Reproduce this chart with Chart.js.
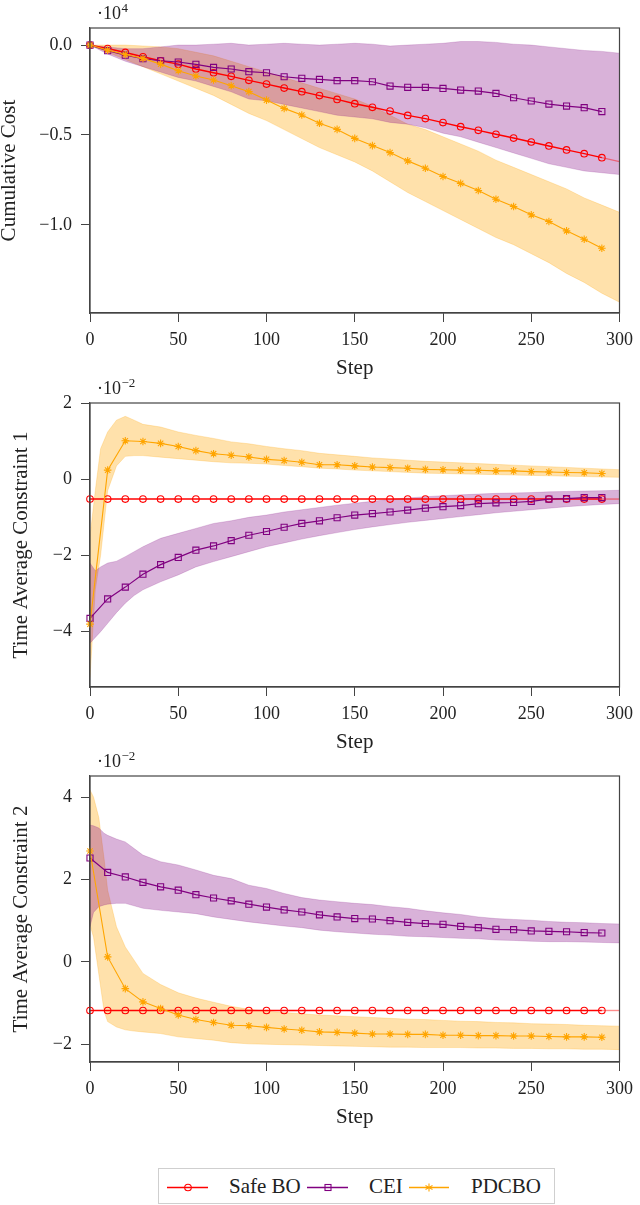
<!DOCTYPE html>
<html>
<head>
<meta charset="utf-8">
<script src="https://cdn.jsdelivr.net/npm/chart.js@4.4.1/dist/chart.umd.min.js"></script>
<style>
  html, body { margin: 0; padding: 0; background: #fff; }
  #page { position: relative; width: 640px; height: 1205px; background: #fff; overflow: hidden; }
  .cv { position: absolute; left: 0; }
  #legend { position: absolute; left: 158px; top: 1168px; width: 397px; height: 36px;
            border: 1px solid #cfcfcf; box-sizing: border-box; font-family: "Liberation Serif", serif;
            font-size: 21px; color: #222; }
  #legend .t { position: absolute; top: 4px; line-height: 26px; white-space: nowrap; }
  #legend svg { position: absolute; top: 0; left: 0; }
</style>
</head>
<body>
<div id="page">
  <canvas id="c1" class="cv" style="top:0px"></canvas>
  <canvas id="c2" class="cv" style="top:370px"></canvas>
  <canvas id="c3" class="cv" style="top:745px"></canvas>
  <div id="legend">
    <svg width="397" height="36" viewBox="0 0 397 36">
      <line x1="8" y1="18.5" x2="49" y2="18.5" stroke="#ff0000" stroke-width="1.3"/>
      <circle cx="29" cy="18.5" r="3.3" fill="none" stroke="#ff0000" stroke-width="1.1"/>
      <line x1="148" y1="18.5" x2="189" y2="18.5" stroke="#800080" stroke-width="1.3"/>
      <rect x="166" y="15.5" width="6" height="6" fill="none" stroke="#800080" stroke-width="1.1"/>
      <line x1="250" y1="18.5" x2="290" y2="18.5" stroke="#ffa500" stroke-width="1.3"/>
      <g stroke="#ffa500" stroke-width="1.1">
        <line x1="270" y1="14.5" x2="270" y2="22.5"/>
        <line x1="266.5" y1="16.5" x2="273.5" y2="20.5"/>
        <line x1="266.5" y1="20.5" x2="273.5" y2="16.5"/>
      </g>
    </svg>
    <span class="t" style="left:70px">Safe BO</span>
    <span class="t" style="left:210px">CEI</span>
    <span class="t" style="left:312px">PDCBO</span>
  </div>
</div>
<script>
// ---------------- DATA ----------------
const seriesNames = ['Safe BO', 'CEI', 'PDCBO'];
const markerSteps = [0,10,20,30,40,50,60,70,80,90,100,110,120,130,140,150,160,170,180,190,200,210,220,230,240,250,260,270,280,290];
const safeSteps = [0,10,20,30,40,50,60,70,80,90,100,110,120,130,140,150,160,170,180,190,200,210,220,230,240,250,260,270,280,290,300];
const xTicks = [0,50,100,150,200,250,300];
const xTickLabels = ['0','50','100','150','200','250','300'];

// Panel 1: Cumulative Cost (x 10^4)
const costSafe = [0,-0.019,-0.041,-0.065,-0.087,-0.106,-0.133,-0.154,-0.174,-0.196,-0.217,-0.239,-0.259,-0.281,-0.302,-0.326,-0.346,-0.367,-0.391,-0.409,-0.431,-0.454,-0.474,-0.496,-0.517,-0.539,-0.561,-0.583,-0.604,-0.626,-0.648];
const costCEI = [0,-0.031,-0.056,-0.076,-0.087,-0.094,-0.107,-0.124,-0.133,-0.148,-0.154,-0.176,-0.185,-0.191,-0.198,-0.198,-0.204,-0.228,-0.235,-0.235,-0.241,-0.250,-0.256,-0.269,-0.293,-0.311,-0.328,-0.339,-0.348,-0.370];
const costPDCBO = [0,-0.028,-0.052,-0.074,-0.106,-0.143,-0.172,-0.194,-0.226,-0.259,-0.306,-0.352,-0.389,-0.435,-0.469,-0.519,-0.559,-0.598,-0.644,-0.685,-0.731,-0.769,-0.809,-0.857,-0.898,-0.944,-0.981,-1.033,-1.080,-1.130];
const costBandSteps = [0,10,20,30,40,50,60,70,80,90,100,110,120,130,140,150,160,170,180,190,200,210,220,230,240,250,260,270,280,290,300];
const costCEIUpper = [0,-0.01,-0.02,-0.02,-0.01,0.0,0.0,0.005,0.01,0.0,0.005,0.01,0.005,0.0,0.005,0.01,0.005,-0.005,0.0,0.005,0.01,0.02,0.02,0.015,0.005,0.0,-0.01,-0.02,-0.03,-0.035,-0.045];
const costCEILower = [0,-0.05,-0.09,-0.12,-0.15,-0.18,-0.20,-0.23,-0.26,-0.30,-0.31,-0.33,-0.35,-0.37,-0.39,-0.40,-0.41,-0.43,-0.44,-0.46,-0.49,-0.51,-0.54,-0.57,-0.60,-0.63,-0.66,-0.68,-0.70,-0.71,-0.72];
const costPDCBOUpper = [0,0.0,0.0,-0.005,-0.01,-0.02,-0.04,-0.06,-0.09,-0.12,-0.15,-0.18,-0.21,-0.24,-0.27,-0.30,-0.34,-0.39,-0.44,-0.47,-0.51,-0.55,-0.59,-0.64,-0.68,-0.72,-0.76,-0.80,-0.85,-0.89,-0.93];
const costPDCBOLower = [0,-0.04,-0.08,-0.12,-0.16,-0.20,-0.24,-0.28,-0.33,-0.38,-0.42,-0.47,-0.52,-0.57,-0.61,-0.65,-0.70,-0.76,-0.82,-0.87,-0.92,-0.97,-1.02,-1.07,-1.11,-1.16,-1.21,-1.27,-1.32,-1.38,-1.43];
const costTicks = [0,-0.5,-1.0];
const costTickLabels = ['0.0','\u22120.5','\u22121.0'];

// Panel 2: Time Average Constraint 1 (x 10^-2)
const c1Safe = [-0.52,-0.52,-0.52,-0.52,-0.52,-0.52,-0.52,-0.52,-0.52,-0.52,-0.52,-0.52,-0.52,-0.52,-0.52,-0.52,-0.52,-0.52,-0.52,-0.52,-0.52,-0.52,-0.52,-0.52,-0.52,-0.52,-0.52,-0.52,-0.52,-0.52,-0.52];
const c1CEI = [-3.65,-3.14,-2.83,-2.49,-2.24,-2.05,-1.86,-1.75,-1.61,-1.47,-1.37,-1.26,-1.16,-1.09,-1.01,-0.94,-0.90,-0.86,-0.81,-0.76,-0.72,-0.69,-0.64,-0.62,-0.61,-0.58,-0.52,-0.51,-0.48,-0.48];
const c1PDCBO = [-3.80,0.24,1.01,0.99,0.94,0.86,0.75,0.67,0.63,0.585,0.52,0.49,0.445,0.38,0.38,0.35,0.32,0.305,0.29,0.26,0.25,0.24,0.235,0.22,0.22,0.20,0.19,0.175,0.17,0.15];
const c1BandSteps = [0,3,6,10,15,20,25,30,40,50,60,70,80,90,100,110,120,130,140,150,160,170,180,190,200,210,220,230,240,250,260,270,280,290,300];
const c1PDCBOUpper = [-1.5,-0.3,0.8,1.24,1.55,1.65,1.55,1.44,1.37,1.24,1.15,1.07,0.98,0.93,0.86,0.80,0.75,0.68,0.64,0.60,0.56,0.53,0.50,0.47,0.45,0.43,0.41,0.39,0.37,0.35,0.33,0.31,0.29,0.27,0.25];
const c1PDCBOLower = [-5.2,-2.9,-2.0,-0.3,0.35,0.6,0.62,0.62,0.58,0.54,0.50,0.46,0.43,0.42,0.40,0.36,0.33,0.29,0.27,0.24,0.22,0.20,0.18,0.16,0.15,0.14,0.13,0.12,0.11,0.10,0.09,0.08,0.07,0.06,0.05];
const c1CEIUpper = [-2.2,-2.4,-2.3,-2.2,-2.15,-2.03,-1.9,-1.77,-1.55,-1.42,-1.29,-1.16,-1.09,-1.00,-0.94,-0.86,-0.80,-0.74,-0.68,-0.63,-0.58,-0.53,-0.49,-0.46,-0.43,-0.41,-0.39,-0.37,-0.36,-0.35,-0.33,-0.32,-0.31,-0.30,-0.29];
const c1CEILower = [-4.3,-4.15,-4.0,-3.78,-3.5,-3.25,-3.05,-2.9,-2.69,-2.51,-2.30,-2.16,-2.03,-1.90,-1.77,-1.67,-1.57,-1.48,-1.40,-1.32,-1.25,-1.19,-1.13,-1.08,-1.03,-0.98,-0.93,-0.88,-0.84,-0.80,-0.76,-0.72,-0.69,-0.66,-0.64];
const c1Ticks = [-4,-2,0,2];
const c1TickLabels = ['\u22124','\u22122','0','2'];

// Panel 3: Time Average Constraint 2 (x 10^-2)
const c2Safe = [-1.18,-1.18,-1.18,-1.18,-1.18,-1.18,-1.18,-1.18,-1.18,-1.18,-1.18,-1.18,-1.18,-1.18,-1.18,-1.18,-1.18,-1.18,-1.18,-1.18,-1.18,-1.18,-1.18,-1.18,-1.18,-1.18,-1.18,-1.18,-1.18,-1.18,-1.18];
const c2CEI = [2.52,2.17,2.06,1.93,1.82,1.74,1.63,1.55,1.48,1.40,1.33,1.26,1.21,1.14,1.09,1.05,1.04,1.00,0.96,0.93,0.91,0.86,0.83,0.79,0.78,0.75,0.74,0.73,0.71,0.70];
const c2PDCBO = [2.69,0.12,-0.65,-0.97,-1.13,-1.29,-1.40,-1.47,-1.54,-1.55,-1.59,-1.63,-1.66,-1.70,-1.71,-1.73,-1.75,-1.75,-1.76,-1.76,-1.78,-1.78,-1.79,-1.79,-1.80,-1.80,-1.81,-1.82,-1.82,-1.83];
const c2BandSteps = [0,2,5,8,10,15,20,25,30,40,50,60,70,80,90,100,110,120,130,140,150,160,170,180,190,200,210,220,230,240,250,260,270,280,290,300];
const c2PDCBOUpper = [4.17,4.0,3.5,2.5,1.74,0.85,0.36,0.04,-0.28,-0.55,-0.75,-0.88,-0.98,-1.08,-1.15,-1.20,-1.23,-1.26,-1.29,-1.31,-1.33,-1.35,-1.37,-1.39,-1.40,-1.42,-1.44,-1.45,-1.47,-1.48,-1.50,-1.51,-1.52,-1.54,-1.55,-1.56];
const c2PDCBOLower = [0.9,0.6,-0.3,-1.2,-1.45,-1.58,-1.65,-1.68,-1.70,-1.74,-1.82,-1.86,-1.90,-1.96,-1.99,-2.00,-2.01,-2.02,-2.03,-2.04,-2.05,-2.06,-2.07,-2.07,-2.08,-2.08,-2.08,-2.09,-2.09,-2.10,-2.10,-2.11,-2.11,-2.12,-2.12,-2.13];
const c2CEIUpper = [3.32,3.30,3.25,3.12,3.07,2.98,2.91,2.75,2.59,2.43,2.35,2.23,2.10,2.02,1.86,1.78,1.66,1.56,1.50,1.46,1.42,1.39,1.34,1.30,1.24,1.19,1.15,1.09,1.05,1.03,1.01,0.98,0.96,0.95,0.93,0.92];
const c2CEILower = [0.85,1.2,1.34,1.38,1.40,1.42,1.42,1.36,1.30,1.25,1.21,1.17,1.09,1.03,0.97,0.92,0.87,0.83,0.77,0.73,0.70,0.67,0.65,0.62,0.61,0.59,0.57,0.56,0.53,0.52,0.50,0.49,0.49,0.48,0.47,0.46];
const c2Ticks = [-2,0,2,4];
const c2TickLabels = ['\u22122','0','2','4'];

// ---------------- RENDERING ----------------
const FONT = '"Liberation Serif", "Times New Roman", serif';
Chart.defaults.font.family = FONT;
Chart.defaults.color = '#222';

const RED = '#ff0000', PURPLE = '#800080', ORANGE = '#ffa500';
const PURPLE_FILL = 'rgba(128,0,128,0.30)', ORANGE_FILL = 'rgba(255,165,0,0.33)';
const PURPLE_EDGE = 'rgba(128,0,128,0.30)', ORANGE_EDGE = 'rgba(255,165,0,0.40)';

function pts(xs, ys) { return ys.map((y, i) => ({ x: xs[i], y: y })); }

const framePlugin = {
  id: 'frameMult',
  afterDatasetsDraw(chart, args, opts) {
    const { ctx, chartArea: a } = chart;
    ctx.save();
    ctx.strokeStyle = '#444';
    ctx.lineWidth = 1.2;
    ctx.strokeRect(a.left, a.top, a.right - a.left, a.bottom - a.top);
    ctx.fillStyle = '#222';
    ctx.textBaseline = 'alphabetic';
    ctx.textAlign = 'left';
    ctx.font = '18px ' + FONT;
    const x0 = 97, y0 = a.top - 9;
    ctx.fillText(opts.base, x0, y0);
    const w = ctx.measureText(opts.base).width;
    ctx.font = '13px ' + FONT;
    ctx.fillText(opts.exp, x0 + w + 0.5, y0 - 7);
    ctx.restore();
  }
};

function makeChart(id, cfg) {
  const canvas = document.getElementById(id);
  canvas.style.width = '640px';
  canvas.style.height = cfg.height + 'px';
  canvas.width = 640; canvas.height = cfg.height;
  const n = safeSteps.length;
  const datasets = [
    { label: seriesNames[2], data: pts(markerSteps, cfg.pdcbo), borderColor: ORANGE, borderWidth: 1.1,
      pointStyle: 'star', pointRadius: 3.8, pointBorderColor: ORANGE, pointBorderWidth: 1.1,
      pointBackgroundColor: ORANGE, fill: false, order: 1, clip: false, tension: 0 },
    { label: seriesNames[1], data: pts(markerSteps, cfg.cei), borderColor: PURPLE, borderWidth: 1.2,
      pointStyle: 'rect', pointRadius: 4.3, pointBorderColor: PURPLE, pointBorderWidth: 1.1,
      pointBackgroundColor: 'rgba(0,0,0,0)', fill: false, order: 2, clip: false, tension: 0 },
    { label: seriesNames[0], data: pts(safeSteps, cfg.safe), borderColor: RED, borderWidth: 1.4,
      pointStyle: 'circle', pointRadius: (c) => (c.dataIndex === n - 1 ? 0 : 3.3), pointBorderColor: RED,
      pointBorderWidth: 1.1, pointBackgroundColor: 'rgba(0,0,0,0)', fill: false, order: 3, clip: false, tension: 0,
      segment: { borderColor: (c) => (c.p1DataIndex === n - 1 ? 'rgba(255,0,0,0.45)' : undefined) } },
    { label: 'CEI upper', data: pts(cfg.bandSteps, cfg.ceiU), borderColor: PURPLE_EDGE, borderWidth: 0.6,
      pointRadius: 0, backgroundColor: PURPLE_FILL, fill: '+1', order: 4, tension: 0 },
    { label: 'CEI lower', data: pts(cfg.bandSteps, cfg.ceiL), borderColor: PURPLE_EDGE, borderWidth: 0.6,
      pointRadius: 0, fill: false, order: 5, tension: 0 },
    { label: 'PDCBO upper', data: pts(cfg.bandSteps, cfg.pdU), borderColor: ORANGE_EDGE, borderWidth: 0.6,
      pointRadius: 0, backgroundColor: ORANGE_FILL, fill: '+1', order: 6, tension: 0 },
    { label: 'PDCBO lower', data: pts(cfg.bandSteps, cfg.pdL), borderColor: ORANGE_EDGE, borderWidth: 0.6,
      pointRadius: 0, fill: false, order: 7, tension: 0 }
  ];
  return new Chart(canvas, {
    type: 'line',
    data: { datasets: datasets },
    plugins: [framePlugin],
    options: {
      responsive: false,
      animation: false,
      events: [],
      layout: { padding: { top: cfg.padTop, left: 0, right: 15, bottom: 0 } },
      plugins: {
        legend: { display: false },
        tooltip: { enabled: false },
        frameMult: { base: '\u00b710', exp: cfg.exp }
      },
      scales: {
        x: {
          type: 'linear', min: 0, max: 300,
          afterBuildTicks: (ax) => { ax.ticks = xTicks.map(v => ({ value: v })); },
          afterFit: (ax) => { ax.height = 66; },
          ticks: { autoSkip: false, maxRotation: 0, padding: 7, color: '#222',
                   font: { size: 18, family: FONT },
                   callback: (v) => xTickLabels[xTicks.indexOf(v)] },
          grid: { display: true, drawOnChartArea: false, drawTicks: true, tickLength: 9, color: '#444', lineWidth: 1 },
          border: { display: true, color: '#444', width: 1.2 },
          title: { display: true, text: 'Step', color: '#222', font: { size: 21, family: FONT, lineHeight: 1 },
                   padding: { top: 0, bottom: 0.5 } }
        },
        y: {
          type: 'linear', min: cfg.ymin, max: cfg.ymax,
          afterBuildTicks: (ax) => { ax.ticks = cfg.ticks.map(v => ({ value: v })); },
          afterFit: (ax) => { ax.width = 90; },
          ticks: { autoSkip: false, padding: 9, color: '#222', font: { size: 18, family: FONT },
                   callback: (v) => cfg.tickLabels[cfg.ticks.indexOf(v)] },
          grid: { display: true, drawOnChartArea: false, drawTicks: true, tickLength: 9, color: '#444', lineWidth: 1 },
          border: { display: true, color: '#444', width: 1.2 },
          title: { display: true, text: cfg.ytitle, color: '#222', font: { size: 21, family: FONT, lineHeight: 1 },
                   padding: { top: cfg.titlePad, bottom: 0 } }
        }
      }
    }
  });
}

makeChart('c1', { height: 379, padTop: 28, ymin: -1.49, ymax: 0.095, exp: '4',
  ticks: costTicks, tickLabels: costTickLabels, ytitle: 'Cumulative Cost', titlePad: -1.5,
  safe: costSafe, cei: costCEI, pdcbo: costPDCBO, bandSteps: costBandSteps,
  ceiU: costCEIUpper, ceiL: costCEILower, pdU: costPDCBOUpper, pdL: costPDCBOLower });

makeChart('c2', { height: 383, padTop: 33, ymin: -5.45, ymax: 2.0, exp: '\u22122',
  ticks: c1Ticks, tickLabels: c1TickLabels, ytitle: 'Time Average Constraint 1', titlePad: 10.5,
  safe: c1Safe, cei: c1CEI, pdcbo: c1PDCBO, bandSteps: c1BandSteps,
  ceiU: c1CEIUpper, ceiL: c1CEILower, pdU: c1PDCBOUpper, pdL: c1PDCBOLower });

makeChart('c3', { height: 383, padTop: 31, ymin: -2.43, ymax: 4.51, exp: '\u22122',
  ticks: c2Ticks, tickLabels: c2TickLabels, ytitle: 'Time Average Constraint 2', titlePad: 10.5,
  safe: c2Safe, cei: c2CEI, pdcbo: c2PDCBO, bandSteps: c2BandSteps,
  ceiU: c2CEIUpper, ceiL: c2CEILower, pdU: c2PDCBOUpper, pdL: c2PDCBOLower });
</script>
</body>
</html>
